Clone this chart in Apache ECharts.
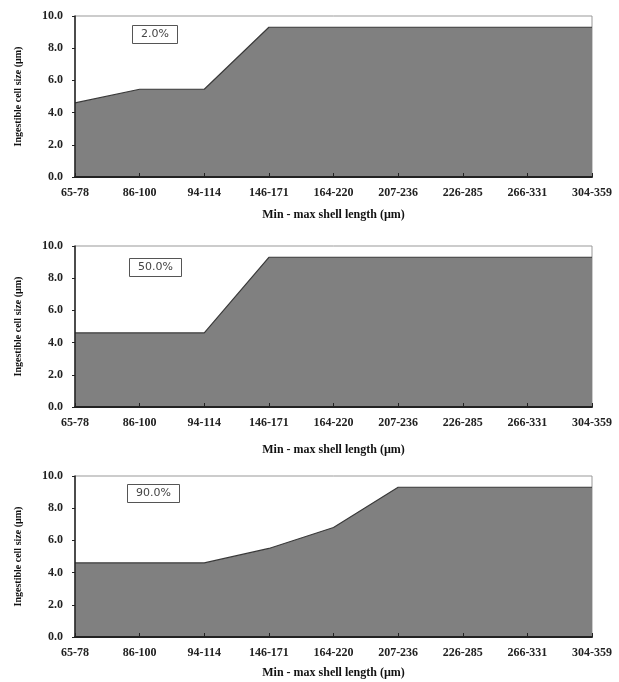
<!DOCTYPE html>
<html>
<head>
<meta charset="utf-8">
<script src="https://cdn.jsdelivr.net/npm/echarts@6/dist/echarts.min.js"></script>
<style>
  html, body { margin: 0; padding: 0; background: #fff; }
  #chart { width: 619px; height: 682px; }
</style>
</head>
<body>
<div id="chart"></div>
<script>
// shell length classes (min - max, um)
const categories = ['65-78', '86-100', '94-114', '146-171', '164-220', '207-236', '226-285', '266-331', '304-359'];
// ingestible cell size per panel
const panelLabels = ['2.0%', '50.0%', '90.0%'];
const size2 = [4.6, 5.45, 5.45, 9.3, 9.3, 9.3, 9.3, 9.3, 9.3];
const size50 = [4.6, 4.6, 4.6, 9.3, 9.3, 9.3, 9.3, 9.3, 9.3];
const size90 = [4.6, 4.6, 4.6, 5.5, 6.8, 9.3, 9.3, 9.3, 9.3];
const panels = [size2, size50, size90];

const gridTops = [16, 246, 476];
const xNameGaps = [32, 37, 30];
const boxPos = [[132, 25], [129, 258], [127, 484]];

const serif = '"Liberation Serif", "Times New Roman", serif';
const chart = echarts.init(document.getElementById('chart'), null, { renderer: 'canvas' });

const option = {
    animation: false,
    backgroundColor: '#fff',
    title: panelLabels.map((t, i) => ({
        text: t,
        left: boxPos[i][0],
        top: boxPos[i][1],
        padding: [4, 9],
        borderColor: '#555',
        borderWidth: 1,
        textStyle: { fontFamily: '"DejaVu Sans", Arial, sans-serif', fontSize: 11, fontWeight: 'normal', color: '#444' }
    })),
    grid: gridTops.map(t => ({
        left: 75, right: 27, top: t, height: 161,
        show: true, borderColor: '#999', borderWidth: 1, backgroundColor: 'transparent'
    })),
    xAxis: panels.map((_, i) => ({
        type: 'category',
        gridIndex: i,
        z: 5,
        data: categories,
        boundaryGap: false,
        name: 'Min - max shell length (µm)',
        nameLocation: 'middle',
        nameGap: xNameGaps[i],
        nameTextStyle: { fontFamily: serif, fontSize: 12, fontWeight: 'bold', color: '#111' },
        axisLine: { lineStyle: { color: '#222', width: 2 } },
        axisTick: { inside: true, length: 4, lineStyle: { color: '#222' } },
        axisLabel: { fontFamily: serif, fontSize: 12, fontWeight: 'bold', color: '#222', margin: 10, interval: 0 },
        splitLine: { show: false }
    })),
    yAxis: panels.map((_, i) => ({
        type: 'value',
        gridIndex: i,
        z: 5,
        min: 0, max: 10, interval: 2,
        name: 'Ingestible cell size (µm)',
        nameLocation: 'middle',
        nameRotate: 90,
        nameGap: 52,
        nameTextStyle: { fontFamily: serif, fontSize: 10, fontWeight: 'bold', color: '#111' },
        axisLine: { show: true, lineStyle: { color: '#222', width: 1.5 } },
        axisTick: { show: true, length: 3, lineStyle: { color: '#222' } },
        axisLabel: { fontFamily: serif, fontSize: 12, fontWeight: 'bold', color: '#222', margin: 12,
            formatter: v => v.toFixed(1) },
        splitLine: { show: false }
    })),
    series: panels.map((d, i) => ({
        type: 'line',
        xAxisIndex: i,
        yAxisIndex: i,
        data: d,
        symbol: 'none',
        lineStyle: { color: '#3a3a3a', width: 1.2 },
        areaStyle: { color: '#808080', opacity: 1 },
        z: 1
    }))
};
chart.setOption(option);
</script>
</body>
</html>
